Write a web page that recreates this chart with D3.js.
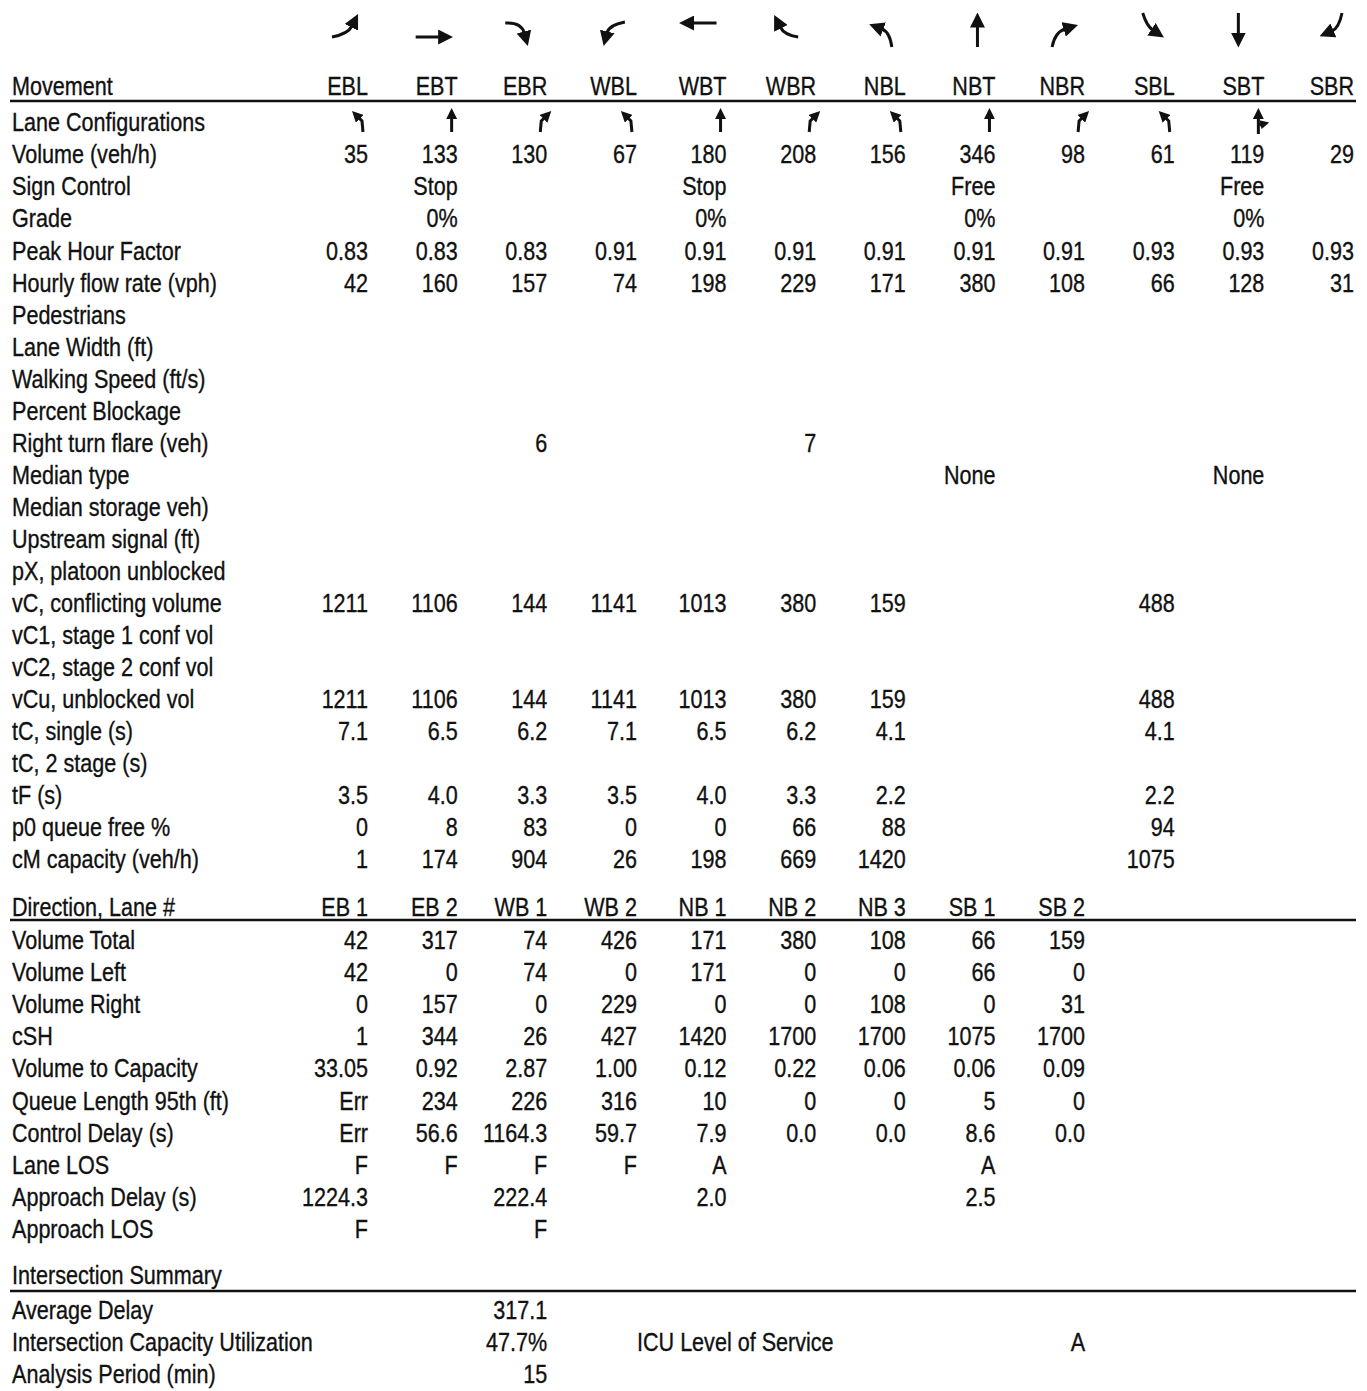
<!DOCTYPE html>
<html>
<head>
<meta charset="utf-8">
<script src="https://cdn.jsdelivr.net/npm/d3@7"></script>
<style>
  html, body { margin: 0; padding: 0; background: #fff; }
  svg { display: block; }
  text { font-family: "Liberation Sans", Arial, sans-serif; font-size: 26px; fill: #111; stroke: #111; stroke-width: 0.35px; }
</style>
</head>
<body>
<svg id="chart" width="1367" height="1391"></svg>
<script>
// ---------------- DATA ----------------
const movements = ["EBL","EBT","EBR","WBL","WBT","WBR","NBL","NBT","NBR","SBL","SBT","SBR"];
const laneConfig = ["L","T","R","L","T","R","L","T","R","L","TR",""];

const volume        = [35,133,130,67,180,208,156,346,98,61,119,29];
const signControl   = ["","Stop","","","Stop","","","Free","","","Free",""];
const grade         = ["","0%","","","0%","","","0%","","","0%",""];
const peakHourFactor= ["0.83","0.83","0.83","0.91","0.91","0.91","0.91","0.91","0.91","0.93","0.93","0.93"];
const hourlyFlow    = [42,160,157,74,198,229,171,380,108,66,128,31];
const rightTurnFlare= ["","","6","","","7","","","","","",""];
const medianType    = ["","","","","","","","None","","","None",""];
const vC            = [1211,1106,144,1141,1013,380,159,"","",488,"",""];
const vCu           = [1211,1106,144,1141,1013,380,159,"","",488,"",""];
const tCsingle      = ["7.1","6.5","6.2","7.1","6.5","6.2","4.1","","","4.1","",""];
const tF            = ["3.5","4.0","3.3","3.5","4.0","3.3","2.2","","","2.2","",""];
const p0            = [0,8,83,0,0,66,88,"","",94,"",""];
const cM            = [1,174,904,26,198,669,1420,"","",1075,"",""];
const empty12       = ["","","","","","","","","","","",""];

const movementRows = [
  ["Lane Configurations", empty12],
  ["Volume (veh/h)", volume],
  ["Sign Control", signControl],
  ["Grade", grade],
  ["Peak Hour Factor", peakHourFactor],
  ["Hourly flow rate (vph)", hourlyFlow],
  ["Pedestrians", empty12],
  ["Lane Width (ft)", empty12],
  ["Walking Speed (ft/s)", empty12],
  ["Percent Blockage", empty12],
  ["Right turn flare (veh)", rightTurnFlare],
  ["Median type", medianType],
  ["Median storage veh)", empty12],
  ["Upstream signal (ft)", empty12],
  ["pX, platoon unblocked", empty12],
  ["vC, conflicting volume", vC],
  ["vC1, stage 1 conf vol", empty12],
  ["vC2, stage 2 conf vol", empty12],
  ["vCu, unblocked vol", vCu],
  ["tC, single (s)", tCsingle],
  ["tC, 2 stage (s)", empty12],
  ["tF (s)", tF],
  ["p0 queue free %", p0],
  ["cM capacity (veh/h)", cM]
];

const lanes          = ["EB 1","EB 2","WB 1","WB 2","NB 1","NB 2","NB 3","SB 1","SB 2"];
const volumeTotal    = [42,317,74,426,171,380,108,66,159];
const volumeLeft     = [42,0,74,0,171,0,0,66,0];
const volumeRight    = [0,157,0,229,0,0,108,0,31];
const cSH            = [1,344,26,427,1420,1700,1700,1075,1700];
const volToCapacity  = ["33.05","0.92","2.87","1.00","0.12","0.22","0.06","0.06","0.09"];
const queueLength95  = ["Err",234,226,316,10,0,0,5,0];
const controlDelay   = ["Err","56.6","1164.3","59.7","7.9","0.0","0.0","8.6","0.0"];
const laneLOS        = ["F","F","F","F","A","","","A",""];
const approachDelay  = ["1224.3","","222.4","","2.0","","","2.5",""];
const approachLOS    = ["F","","F","","","","","",""];

const laneRows = [
  ["Volume Total", volumeTotal],
  ["Volume Left", volumeLeft],
  ["Volume Right", volumeRight],
  ["cSH", cSH],
  ["Volume to Capacity", volToCapacity],
  ["Queue Length 95th (ft)", queueLength95],
  ["Control Delay (s)", controlDelay],
  ["Lane LOS", laneLOS],
  ["Approach Delay (s)", approachDelay],
  ["Approach LOS", approachLOS]
];

const summaryLabels = ["Average Delay","Intersection Capacity Utilization","Analysis Period (min)"];
const summaryValues = ["317.1","47.7%","15"];
const icuLabel = "ICU Level of Service";
const icuLOS = "A";

// ---------------- DRAW ----------------
const svg = d3.select("#chart");
const SX = 0.83; // narrow face
const labelX = 12;

const x = d3.scaleLinear().domain([0, 11]).range([368, 1354]);
const y1 = d3.scaleLinear().domain([1, 24]).range([122, 859]);
const headerY1 = 86;
const y2 = d3.scaleLinear().domain([0, 10]).range([907, 1229]);
const y3 = d3.scaleLinear().domain([1, 3]).range([1310, 1374]);
const headerY3 = 1275;

function txt(g, str, px, py, anchor) {
  g.append("text")
    .attr("transform", `translate(${px},${py}) scale(${SX},1)`)
    .attr("dy", "0.36em")
    .attr("text-anchor", anchor || "start")
    .text(str);
}

const gText = svg.append("g");

txt(gText, "Movement", labelX, headerY1);
movements.forEach((m, i) => txt(gText, m, x(i), headerY1, "end"));

movementRows.forEach((row, r) => {
  const yy = y1(r + 1);
  txt(gText, row[0], labelX, yy);
  row[1].forEach((v, i) => { if (v !== "") txt(gText, String(v), x(i), yy, "end"); });
});

txt(gText, "Direction, Lane #", labelX, y2(0));
lanes.forEach((l, i) => txt(gText, l, x(i), y2(0), "end"));
laneRows.forEach((row, r) => {
  const yy = y2(r + 1);
  txt(gText, row[0], labelX, yy);
  row[1].forEach((v, i) => { if (v !== "") txt(gText, String(v), x(i), yy, "end"); });
});

txt(gText, "Intersection Summary", labelX, headerY3);
summaryLabels.forEach((l, r) => {
  txt(gText, l, labelX, y3(r + 1));
  txt(gText, summaryValues[r], x(2), y3(r + 1), "end");
});
txt(gText, icuLabel, 637, y3(2));
txt(gText, icuLOS, x(8), y3(2), "end");

// rules
[101, 920, 1291].forEach(yy => {
  svg.append("line").attr("x1", 10).attr("x2", 1356).attr("y1", yy).attr("y2", yy)
    .attr("stroke", "#111").attr("stroke-width", 2.6);
});

// arrow markers
const defs = svg.append("defs");
function marker(id, size) {
  defs.append("marker").attr("id", id)
    .attr("viewBox", "0 0 10 10").attr("refX", 1).attr("refY", 5)
    .attr("markerUnits", "userSpaceOnUse")
    .attr("markerWidth", size).attr("markerHeight", size)
    .attr("orient", "auto")
    .append("path").attr("d", "M0,0 L10,5 L0,10 Z").attr("fill", "#111");
}
marker("headBig", 15);
marker("headSmall", 11);
marker("headTiny", 9);

const movementArrows = {
  EBL: "M-16,37 Q0,34 4,26",
  EBT: "M-22,37 L2,37",
  EBR: "M-22,23 Q-6,22 -3,33",
  WBL: "M8,22 Q-8,25 -10,33",
  WBT: "M10,23 L-14,23",
  WBR: "M2,37 Q-12,35 -16,27",
  NBL: "M6,47 Q4,32 -4,29",
  NBT: "M2,47 L2,26",
  NBR: "M-13,47 Q-10,32 0,29",
  SBL: "M-12,13 Q-8,26 -2,30",
  SBT: "M-6,13 L-6,34",
  SBR: "M8,13 Q5,28 -2,31"
};
const gArrows = svg.append("g");
movements.forEach((m, i) => {
  gArrows.append("path")
    .attr("transform", `translate(${x(i) - 20},0)`)
    .attr("d", movementArrows[m])
    .attr("fill", "none").attr("stroke", "#111").attr("stroke-width", 3)
    .attr("marker-end", "url(#headBig)");
});

const laneShapes = {
  L: [["M1,132 L0,121 L-3,118", "headSmall"]],
  T: [["M0,132 L0,118", "headSmall"]],
  R: [["M-1,132 L0,121 L3,118", "headSmall"]],
  TR: [["M0,134 L0,118", "headSmall"], ["M1,125 L3,124.5", "headTiny"]]
};
const gLanes = svg.append("g");
laneConfig.forEach((c, i) => {
  if (!c) return;
  laneShapes[c].forEach(([d, mk]) => {
    gLanes.append("path")
      .attr("transform", `translate(${x(i) - 6},0)`)
      .attr("d", d)
      .attr("fill", "none").attr("stroke", "#111").attr("stroke-width", 3)
      .attr("marker-end", `url(#${mk})`);
  });
});
</script>
</body>
</html>
